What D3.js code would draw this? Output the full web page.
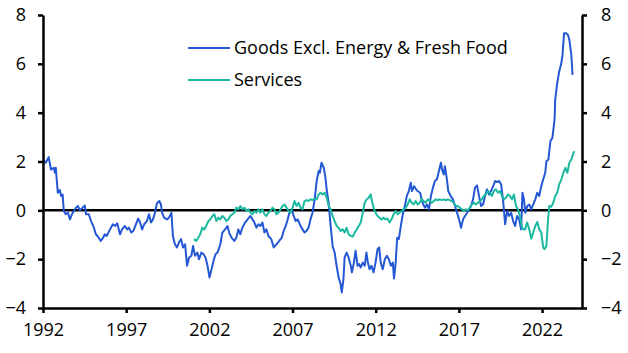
<!DOCTYPE html>
<html>
<head>
<meta charset="utf-8">
<script src="https://cdn.jsdelivr.net/npm/d3@7"></script>
<style>
  body { margin: 0; background: #fff; }
  svg text { font-family: "Open Sans", Lato, sans-serif; fill: #000; }
  .tick-label { font-size: 18px; }
  .legend-label { font-size: 18px; }
</style>
</head>
<body>
<svg id="chart" width="628" height="353"></svg>
<script>
// Series: [decimal year, y/y %]
const goods = [
  [1992.00, 2.08], [1992.17, 1.95], [1992.34, 2.18], [1992.48, 1.67], [1992.65, 1.74], [1992.72, 1.54],
  [1992.77, 1.74], [1992.89, 0.72], [1993.01, 0.83], [1993.09, 0.59], [1993.18, 0.65], [1993.25, -0.03],
  [1993.37, -0.16], [1993.50, -0.10], [1993.62, -0.37], [1993.74, -0.16], [1993.86, -0.03], [1993.98, 0.11],
  [1994.10, 0.18], [1994.22, 0.00], [1994.34, 0.08], [1994.51, 0.20], [1994.58, -0.16], [1994.75, -0.16],
  [1994.89, -0.44], [1995.06, -0.71], [1995.18, -0.98], [1995.30, -1.07], [1995.47, -1.25], [1995.62, -1.12],
  [1995.71, -0.98], [1995.83, -1.05], [1996.03, -0.78], [1996.20, -0.57], [1996.34, -0.64], [1996.46, -0.53],
  [1996.63, -0.98], [1996.75, -0.78], [1996.92, -0.64], [1997.06, -0.78], [1997.16, -0.71], [1997.31, -0.91],
  [1997.43, -0.84], [1997.55, -0.64], [1997.72, -0.34], [1997.84, -0.50], [1997.96, -0.78], [1998.08, -0.57],
  [1998.25, -0.44], [1998.37, -0.16], [1998.49, -0.50], [1998.61, -0.37], [1998.73, -0.10], [1998.85, 0.29],
  [1998.99, 0.38], [1999.09, 0.24], [1999.16, -0.10], [1999.28, -0.30], [1999.45, -0.37], [1999.57, -0.30],
  [1999.72, -0.10], [1999.81, -1.05], [1999.93, -1.39], [2000.05, -1.52], [2000.17, -1.32], [2000.30, -1.18],
  [2000.42, -1.52], [2000.54, -1.39], [2000.66, -2.27], [2000.78, -1.93], [2000.92, -1.86], [2001.02, -1.46],
  [2001.14, -1.86], [2001.28, -1.73], [2001.38, -2.00], [2001.52, -1.73], [2001.65, -1.80], [2001.77, -1.93],
  [2001.89, -2.27], [2002.01, -2.75], [2002.13, -2.41], [2002.25, -2.07], [2002.37, -1.80], [2002.49, -1.73],
  [2002.66, -1.39], [2002.78, -0.91], [2002.95, -0.78], [2003.09, -0.64], [2003.19, -0.91], [2003.33, -1.12],
  [2003.50, -1.25], [2003.62, -1.12], [2003.74, -0.78], [2003.86, -0.98], [2003.98, -0.71], [2004.15, -0.50],
  [2004.30, -0.37], [2004.47, -0.23], [2004.59, -0.37], [2004.71, -0.50], [2004.83, -0.71], [2004.95, -0.57],
  [2005.07, -0.64], [2005.19, -0.50], [2005.31, -0.91], [2005.43, -0.78], [2005.55, -1.05], [2005.72, -1.18],
  [2005.87, -1.52], [2006.03, -1.39], [2006.20, -1.25], [2006.35, -1.12], [2006.47, -0.84], [2006.59, -0.64],
  [2006.71, -0.37], [2006.81, -0.10], [2006.95, 0.04], [2007.07, -0.23], [2007.19, -0.44], [2007.31, -0.37],
  [2007.48, -0.64], [2007.60, -0.78], [2007.72, -0.91], [2007.84, -0.84], [2007.96, -0.71], [2008.08, -0.37],
  [2008.20, -0.10], [2008.33, 0.45], [2008.45, 1.20], [2008.57, 1.61], [2008.64, 1.54], [2008.74, 1.95],
  [2008.88, 1.74], [2008.98, 1.33], [2009.05, 0.86], [2009.17, 0.31], [2009.29, -0.64], [2009.41, -1.46],
  [2009.53, -1.73], [2009.65, -2.27], [2009.77, -2.75], [2009.89, -3.02], [2009.96, -3.36], [2010.06, -2.82],
  [2010.13, -1.93], [2010.25, -1.73], [2010.37, -1.93], [2010.50, -2.27], [2010.57, -2.54], [2010.69, -2.14],
  [2010.79, -1.66], [2010.91, -2.27], [2011.00, -2.20], [2011.10, -2.34], [2011.22, -2.14], [2011.34, -2.27],
  [2011.44, -1.73], [2011.53, -2.14], [2011.63, -2.41], [2011.75, -2.27], [2011.87, -2.54], [2011.99, -2.14],
  [2012.11, -1.59], [2012.21, -1.52], [2012.30, -2.14], [2012.42, -2.41], [2012.55, -2.00], [2012.67, -1.86],
  [2012.79, -2.00], [2012.91, -2.27], [2013.03, -2.14], [2013.10, -2.79], [2013.20, -2.14], [2013.29, -1.12],
  [2013.39, -1.18], [2013.51, -0.64], [2013.63, -0.16], [2013.75, 0.18], [2013.87, 0.59], [2013.99, 0.79],
  [2014.11, 1.13], [2014.18, 0.79], [2014.31, 0.99], [2014.43, 0.86], [2014.52, 0.79], [2014.67, 0.72],
  [2014.76, 0.45], [2014.86, 0.24], [2014.96, 0.11], [2015.08, 0.24], [2015.20, 0.04], [2015.32, 0.59],
  [2015.44, 0.93], [2015.56, 1.20], [2015.68, 1.27], [2015.80, 1.61], [2015.92, 1.95], [2015.99, 1.67],
  [2016.09, 1.47], [2016.16, 1.81], [2016.28, 1.27], [2016.36, 0.79], [2016.50, 0.59], [2016.64, 0.45],
  [2016.77, 0.18], [2016.89, -0.10], [2017.01, -0.37], [2017.13, -0.71], [2017.25, -0.37], [2017.37, -0.23],
  [2017.49, -0.10], [2017.61, 0.04], [2017.73, 0.18], [2017.85, 0.45], [2017.97, 0.93], [2018.09, 1.02],
  [2018.21, 0.59], [2018.33, 0.18], [2018.45, 0.24], [2018.57, 0.59], [2018.69, 0.86], [2018.81, 0.65],
  [2018.93, 0.79], [2019.06, 0.99], [2019.18, 1.20], [2019.30, 1.16], [2019.42, 1.20], [2019.54, 1.06],
  [2019.66, 0.38], [2019.78, -0.57], [2019.90, -0.03], [2020.02, -0.23], [2020.14, -0.10], [2020.26, -0.44],
  [2020.38, -0.64], [2020.50, -0.23], [2020.62, -0.37], [2020.74, -0.78], [2020.82, 0.72], [2020.91, 0.45],
  [2020.99, -0.10], [2021.11, 0.18], [2021.23, 0.24], [2021.35, 0.04], [2021.47, 0.24], [2021.59, 0.45],
  [2021.71, 0.72], [2021.83, 0.59], [2021.95, 0.99], [2022.07, 1.27], [2022.19, 1.54], [2022.26, 2.01],
  [2022.38, 2.08], [2022.50, 2.83], [2022.62, 2.97], [2022.75, 3.71], [2022.79, 4.53], [2022.91, 5.21],
  [2023.03, 5.69], [2023.16, 6.03], [2023.23, 6.37], [2023.32, 7.25], [2023.44, 7.25], [2023.56, 7.18],
  [2023.64, 6.98], [2023.76, 6.37], [2023.83, 5.55]
];

const services = [
  [2001.07, -1.18], [2001.21, -1.25], [2001.33, -1.12], [2001.45, -0.98], [2001.57, -0.71], [2001.69, -0.78],
  [2001.81, -0.64], [2001.94, -0.44], [2002.06, -0.37], [2002.18, -0.23], [2002.30, -0.16], [2002.42, -0.44],
  [2002.54, -0.30], [2002.66, -0.37], [2002.78, -0.23], [2002.90, -0.30], [2003.02, -0.44], [2003.14, -0.37],
  [2003.26, -0.23], [2003.38, -0.16], [2003.50, -0.10], [2003.62, 0.11], [2003.74, 0.04], [2003.86, 0.18],
  [2003.98, 0.04], [2004.11, 0.11], [2004.23, -0.03], [2004.35, 0.04], [2004.47, -0.10], [2004.59, -0.16],
  [2004.71, -0.03], [2004.83, -0.10], [2004.95, 0.04], [2005.07, -0.10], [2005.19, 0.04], [2005.31, -0.16],
  [2005.43, -0.23], [2005.55, -0.10], [2005.67, -0.03], [2005.79, 0.11], [2005.91, 0.04], [2006.03, -0.16],
  [2006.15, -0.10], [2006.28, 0.04], [2006.40, 0.18], [2006.52, 0.24], [2006.64, 0.11], [2006.76, -0.03],
  [2006.88, -0.10], [2007.00, 0.11], [2007.12, 0.38], [2007.24, 0.18], [2007.36, 0.31], [2007.48, 0.11],
  [2007.60, 0.04], [2007.72, 0.38], [2007.84, 0.42], [2007.96, 0.38], [2008.08, 0.45], [2008.20, 0.42],
  [2008.33, 0.48], [2008.45, 0.45], [2008.57, 0.65], [2008.69, 0.72], [2008.81, 0.65], [2008.93, 0.72],
  [2009.05, 0.52], [2009.17, 0.18], [2009.29, 0.04], [2009.41, -0.23], [2009.53, -0.44], [2009.65, -0.64],
  [2009.77, -0.71], [2009.89, -0.84], [2010.01, -0.78], [2010.13, -0.91], [2010.25, -0.71], [2010.37, -0.98],
  [2010.50, -1.05], [2010.62, -1.07], [2010.74, -0.91], [2010.86, -0.78], [2010.98, -0.64], [2011.10, -0.50],
  [2011.22, -0.10], [2011.34, 0.31], [2011.46, 0.45], [2011.58, 0.52], [2011.70, 0.65], [2011.77, 0.38],
  [2011.87, 0.11], [2011.99, -0.10], [2012.11, -0.23], [2012.23, -0.30], [2012.35, -0.37], [2012.47, -0.30],
  [2012.59, -0.37], [2012.71, -0.34], [2012.83, -0.50], [2012.95, -0.37], [2013.08, -0.16], [2013.20, -0.03],
  [2013.32, -0.16], [2013.44, -0.10], [2013.56, -0.03], [2013.68, 0.04], [2013.80, 0.11], [2013.92, 0.24],
  [2014.04, 0.45], [2014.16, 0.31], [2014.28, 0.24], [2014.40, 0.38], [2014.52, 0.24], [2014.64, 0.31],
  [2014.76, 0.45], [2014.88, 0.38], [2015.00, 0.31], [2015.13, 0.45], [2015.25, 0.38], [2015.37, 0.31],
  [2015.49, 0.38], [2015.61, 0.45], [2015.73, 0.41], [2015.85, 0.45], [2015.97, 0.42], [2016.09, 0.45],
  [2016.21, 0.41], [2016.33, 0.45], [2016.45, 0.42], [2016.57, 0.38], [2016.69, 0.31], [2016.81, 0.18],
  [2016.93, 0.18], [2017.05, 0.11], [2017.18, 0.04], [2017.30, -0.03], [2017.42, 0.04], [2017.54, 0.01],
  [2017.66, 0.11], [2017.78, 0.24], [2017.90, 0.31], [2018.02, 0.24], [2018.14, 0.31], [2018.26, 0.38],
  [2018.38, 0.45], [2018.50, 0.59], [2018.62, 0.65], [2018.74, 0.79], [2018.86, 0.72], [2018.98, 0.59],
  [2019.10, 0.79], [2019.22, 0.86], [2019.35, 0.72], [2019.47, 0.79], [2019.59, 0.59], [2019.71, 0.45],
  [2019.83, 0.52], [2019.95, 0.65], [2020.07, 0.59], [2020.19, 0.45], [2020.31, 0.65], [2020.43, 0.18],
  [2020.55, 0.04], [2020.67, -0.23], [2020.79, -0.71], [2020.91, -0.78], [2020.98, -0.78], [2021.10, -0.50],
  [2021.23, -0.78], [2021.35, -1.16], [2021.47, -0.91], [2021.59, -0.64], [2021.71, -0.48], [2021.83, -0.78],
  [2021.95, -0.91], [2022.07, -1.52], [2022.14, -1.59], [2022.26, -1.46], [2022.36, -0.37], [2022.43, 0.18],
  [2022.55, 0.15], [2022.67, 0.31], [2022.79, 0.59], [2022.91, 0.72], [2023.03, 1.06], [2023.16, 1.27],
  [2023.28, 1.54], [2023.40, 1.74], [2023.52, 1.54], [2023.64, 1.95], [2023.76, 2.08], [2023.88, 2.35],
  [2023.95, 2.42]
];

const yTicks = [-4, -2, 0, 2, 4, 6, 8];
const xTicks = [1992, 1997, 2002, 2007, 2012, 2017, 2022];
const legendLabels = ['Goods Excl. Energy & Fresh Food', 'Services'];
const colours = ['#2457d3', '#1cb9a0'];

const svg = d3.select('#chart');

// Plot box
const plotLeft = 43, plotRight = 582, plotTop = 15, plotBottom = 308;

const x = d3.scaleLinear().domain([1992, 2024.4]).range([plotLeft, plotRight]);
const y = d3.scaleLinear().domain([-4, 8]).range([plotBottom, plotTop]);

const line = d3.line()
  .x(d => x(d[0]))
  .y(d => y(d[1]));

// Zero line
svg.append('line')
  .attr('x1', plotLeft).attr('x2', plotRight)
  .attr('y1', y(0)).attr('y2', y(0))
  .attr('stroke', '#000').attr('stroke-width', 2.5);

// Series lines
[goods, services].forEach((series, i) => {
  svg.append('path')
    .datum(series)
    .attr('fill', 'none')
    .attr('stroke', colours[i])
    .attr('stroke-width', 2)
    .attr('stroke-linejoin', 'round')
    .attr('d', line);
});

// Axes
const styleAxis = g => {
  g.select('.domain').attr('stroke', '#000').attr('stroke-width', 2.5);
  g.selectAll('.tick line').attr('stroke', '#000').attr('stroke-width', 2.5);
  g.selectAll('.tick text').attr('class', 'tick-label');
  g.attr('font-family', null).attr('font-size', null);
};

svg.append('g')
  .attr('transform', `translate(${plotLeft},0)`)
  .call(d3.axisLeft(y).tickValues(yTicks).tickSize(5).tickSizeOuter(0).tickPadding(12))
  .call(styleAxis);

svg.append('g')
  .attr('transform', `translate(${plotRight},0)`)
  .call(d3.axisRight(y).tickValues(yTicks).tickSize(5).tickSizeOuter(0).tickPadding(14))
  .call(styleAxis);

svg.append('g')
  .attr('transform', `translate(0,${plotBottom})`)
  .call(d3.axisBottom(x).tickValues(xTicks).tickFormat(d3.format('d')).tickSize(5).tickSizeOuter(0).tickPadding(10))
  .call(styleAxis);

// Legend
const legend = svg.append('g').attr('transform', 'translate(188,48)');
legendLabels.forEach((label, i) => {
  const row = legend.append('g').attr('transform', `translate(0,${i * 32})`);
  row.append('line')
    .attr('x1', 0).attr('x2', 42)
    .attr('stroke', colours[i]).attr('stroke-width', 2);
  row.append('text')
    .attr('class', 'legend-label')
    .attr('x', 46)
    .attr('dy', '0.35em')
    .text(label);
});
</script>
</body>
</html>
